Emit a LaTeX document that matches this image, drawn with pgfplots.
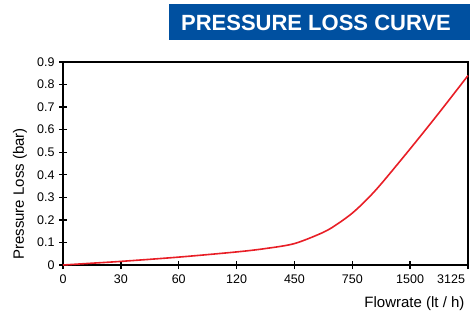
\documentclass[border=0pt]{standalone}
\usepackage{fontspec}
\setmainfont{Liberation Sans}
\usepackage{pgfplots}
\pgfplotsset{compat=1.18}
\definecolor{titleblue}{RGB}{0,80,160}
\definecolor{curvered}{RGB}{232,30,38}
\begin{document}
\begin{tikzpicture}[x=1pt,y=1pt]
\useasboundingbox (0,0) rectangle (470,311);
\fill[titleblue] (169,270.5) rectangle (470,307);
\node[text=white,font=\fontsize{22}{24}\selectfont\bfseries] at (316,288.5) {PRESSURE LOSS CURVE};
\begin{axis}[
  at={(63pt,46pt)}, anchor=south west,
  width=405pt, height=203pt, scale only axis,
  xmin=0, xmax=7, ymin=0, ymax=0.9,
  xtick={0,1,2,3,4,5,6,7},
  xticklabels={0,30,60,120,450,750,1500,\makebox[0pt][r]{3125\hspace{3pt}}},
  ytick={0,0.1,0.2,0.3,0.4,0.5,0.6,0.7,0.8,0.9},
  yticklabel style={/pgf/number format/fixed,/pgf/number format/precision=1, xshift=-1pt},
  xticklabel style={yshift=-2.5pt},
  /pgf/number format/assume math mode=true,
  tick label style={font=\fontsize{12.5}{14}\selectfont},
  tick align=center, major tick length=8pt,
  xtick pos=bottom, ytick pos=left,
  tick style={black, line width=1.3pt},
  axis line style={black, line width=1.3pt},
  xlabel={Flowrate (lt / h)},
  ylabel={Pressure Loss (bar)},
  label style={font=\fontsize{15}{17}\selectfont},
  xlabel style={at={(axis description cs:1,-0.192)}, anchor=east},
  ylabel style={at={(axis description cs:-0.106,0.35)}, anchor=center},
  clip=false,
]
\addplot[curvered, line width=1.6pt, smooth, tension=0.5] coordinates {
(0,0) (0.5,0.008) (1,0.016) (2,0.035) (3,0.058) (3.5,0.073) (4,0.095)
(4.5,0.145) (4.75,0.183) (5,0.23) (5.25,0.29) (5.5,0.36) (6,0.515) (6.5,0.675) (7,0.84)
};
\end{axis}
\end{tikzpicture}
\end{document}
